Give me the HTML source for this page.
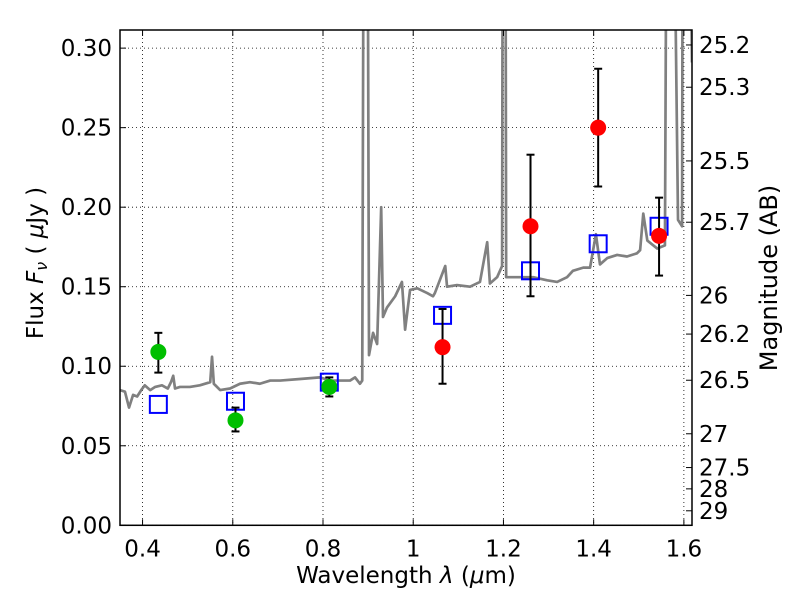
<!DOCTYPE html>
<html><head><meta charset="utf-8"><style>
body{margin:0;background:#fff}
svg text{font-family:"DejaVu Sans","Liberation Sans",sans-serif;fill:#000}
</style></head><body>
<svg id="chart" width="800" height="600"></svg>
<script>
const specLam=[0.350,0.361,0.370,0.379,0.388,0.397,0.405,0.417,0.428,0.443,0.456,0.463,0.468,0.472,0.483,0.505,0.527,0.550,0.554,0.558,0.572,0.594,0.616,0.638,0.660,0.683,0.705,0.749,0.793,0.816,0.860,0.871,0.882,0.887,0.891,0.898,0.902,0.911,0.920,0.929,0.933,0.942,0.960,0.975,0.982,0.993,1.009,1.031,1.044,1.048,1.071,1.075,1.097,1.126,1.148,1.164,1.170,1.186,1.197,1.199,1.204,1.206,1.230,1.266,1.297,1.319,1.341,1.354,1.377,1.392,1.405,1.414,1.430,1.452,1.474,1.496,1.503,1.510,1.519,1.541,1.558,1.563,1.574,1.587,1.596,1.598,1.609,1.618];
const specFlux=[0.085,0.084,0.074,0.082,0.081,0.085,0.088,0.085,0.087,0.088,0.086,0.090,0.094,0.086,0.087,0.087,0.088,0.090,0.106,0.089,0.085,0.086,0.089,0.090,0.089,0.091,0.091,0.092,0.093,0.091,0.091,0.093,0.089,0.091,0.5,0.5,0.107,0.121,0.114,0.200,0.131,0.137,0.144,0.153,0.123,0.148,0.149,0.146,0.144,0.146,0.163,0.150,0.151,0.150,0.153,0.178,0.152,0.156,0.163,0.5,0.5,0.156,0.156,0.156,0.154,0.153,0.156,0.160,0.162,0.162,0.183,0.164,0.168,0.170,0.169,0.171,0.173,0.196,0.179,0.174,0.176,0.5,0.5,0.192,0.188,0.5,0.5,0.291];
const greenLam=[0.435,0.606,0.814];
const greenFlux=[0.109,0.066,0.087];
const greenLo=[0.096,0.059,0.081];
const greenHi=[0.121,0.074,0.093];
const redLam=[1.065,1.26,1.41,1.545];
const redFlux=[0.112,0.188,0.250,0.182];
const redLo=[0.089,0.144,0.213,0.157];
const redHi=[0.136,0.233,0.287,0.206];
const modelLam=[0.435,0.606,0.814,1.065,1.26,1.41,1.545];
const modelFlux=[0.076,0.078,0.090,0.132,0.160,0.177,0.188];
const xTicks=[0.4,0.6,0.8,1.0,1.2,1.4,1.6];
const xTickLabels=["0.4","0.6","0.8","1","1.2","1.4","1.6"];
const yTicks=[0,0.05,0.10,0.15,0.20,0.25,0.30];
const yTickLabels=["0.00","0.05","0.10","0.15","0.20","0.25","0.30"];
const magTicks=[25.2,25.3,25.5,25.7,26,26.2,26.5,27,27.5,28,29];
const magTickLabels=["25.2","25.3","25.5","25.7","26","26.2","26.5","27","27.5","28","29"];

const L=120,R=692,T=30,B=525.3;
const xMin=0.35,xMax=1.618,yMin=0,yMax=0.3114;
const X=v=>L+(v-xMin)/(xMax-xMin)*(R-L);
const Y=v=>B-(v-yMin)/(yMax-yMin)*(B-T);
const svg=document.getElementById('chart');
const NS='http://www.w3.org/2000/svg';
function mk(tag,attrs,parent){const e=document.createElementNS(NS,tag);for(const k in attrs)e.setAttribute(k,attrs[k]);(parent||svg).appendChild(e);return e;}

const defs=mk('defs',{});
const cp=mk('clipPath',{id:'clip'},defs);
mk('rect',{x:L,y:T,width:R-L,height:B-T},cp);

xTicks.forEach(v=>{const g=mk('line',{x1:X(v),x2:X(v),y1:T,y2:B,stroke:'#000','stroke-width':0.8,'stroke-dasharray':'1,3'});

});
yTicks.forEach(v=>{const g=mk('line',{x1:L,x2:R,y1:Y(v),y2:Y(v),stroke:'#000','stroke-width':0.8,'stroke-dasharray':'1,3'});

});

const plot=mk('g',{'clip-path':'url(#clip)'});


const sp=mk('polyline',{points:specLam.map((l,i)=>X(l)+','+Y(specFlux[i])).join(' '),fill:'none',stroke:'#808080','stroke-width':2.7,'stroke-linejoin':'round'},plot);



modelLam.forEach((l,i)=>{const s=mk('rect',{x:X(l)-8.5,y:Y(modelFlux[i])-8.5,width:17,height:17,fill:'none',stroke:'#0000ff','stroke-width':2},plot);

});

function errs(lams,f,lo,hi,color,name){
  lams.forEach((l,i)=>{const x=X(l);
    const g=mk('g',{},plot);
    
    
    mk('line',{x1:x,x2:x,y1:Y(lo[i]),y2:Y(hi[i]),stroke:'#000','stroke-width':2},g);
    mk('line',{x1:x-4,x2:x+4,y1:Y(lo[i]),y2:Y(lo[i]),stroke:'#000','stroke-width':2},g);
    mk('line',{x1:x-4,x2:x+4,y1:Y(hi[i]),y2:Y(hi[i]),stroke:'#000','stroke-width':2},g);
  });
  lams.forEach((l,i)=>{const c=mk('circle',{cx:X(l),cy:Y(f[i]),r:8,fill:color},plot);
    
    });
}
errs(greenLam,greenFlux,greenLo,greenHi,'#00bf00','green');
errs(redLam,redFlux,redLo,redHi,'#ff0000','red');

const fr=mk('rect',{x:L,y:T,width:R-L,height:B-T,fill:'none',stroke:'#000','stroke-width':1.5});



xTicks.forEach((v,i)=>{const x=X(v);
  mk('line',{x1:x,x2:x,y1:B,y2:B-6,stroke:'#000'});mk('line',{x1:x,x2:x,y1:T,y2:T+6,stroke:'#000'});
  const t=mk('text',{x:x,y:B+31,'text-anchor':'middle','font-size':23});t.textContent=xTickLabels[i];
  
  });
yTicks.forEach((v,i)=>{const y=Y(v);
  mk('line',{x1:L,x2:L+6,y1:y,y2:y,stroke:'#000'});
  const t=mk('text',{x:L-8,y:y+8,'text-anchor':'end','font-size':23});t.textContent=yTickLabels[i];
  
  });
magTicks.forEach((m,i)=>{const y=Y(Math.pow(10,(23.9-m)/2.5));
  mk('line',{x1:R,x2:R-6,y1:y,y2:y,stroke:'#000'});
  const t=mk('text',{x:R+7,y:y+8,'font-size':23});t.textContent=magTickLabels[i];
  
  });
</script>
<svg width="800" height="600" style="position:absolute;left:0;top:0;pointer-events:none">
<text x="406" y="583" text-anchor="middle" font-size="23" style="font-family:'DejaVu Sans',sans-serif">Wavelength  <tspan font-style="italic">λ</tspan> (<tspan font-style="italic">μ</tspan>m)</text>
<text transform="translate(43,263) rotate(-90)" text-anchor="middle" font-size="23" style="font-family:'DejaVu Sans',sans-serif">Flux  <tspan font-style="italic">F</tspan><tspan font-style="italic" font-size="16" dy="4">ν</tspan><tspan dy="-4">  ( </tspan><tspan font-style="italic">μ</tspan>Jy )</text>
<text transform="translate(777,278) rotate(-90)" text-anchor="middle" font-size="24" style="font-family:'DejaVu Sans',sans-serif">Magnitude (AB)</text>
</svg>
</body></html>
